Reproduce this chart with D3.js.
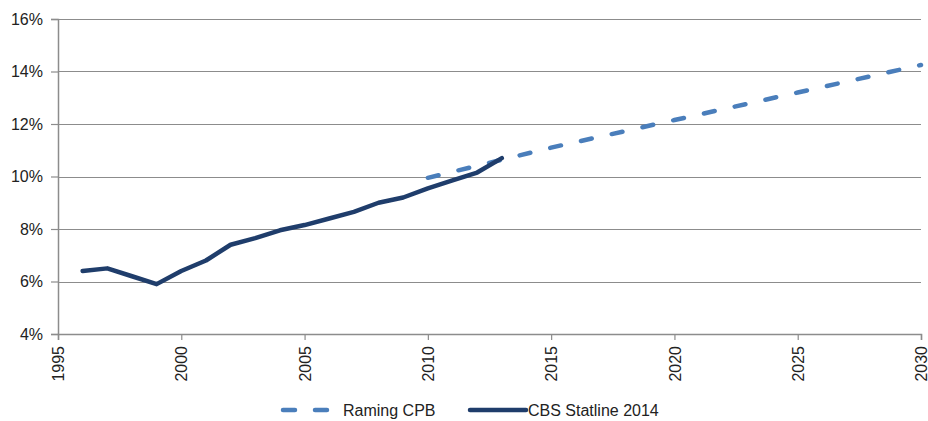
<!DOCTYPE html>
<html>
<head>
<meta charset="utf-8">
<style>
	body { margin: 0; background: #fff; }
	svg text { font-family: "Liberation Sans", Arial, sans-serif; fill: #222; }
</style>
</head>
<body>
<div id="chart"></div>
<script src="https://d3js.org/d3.v7.min.js"></script>
<script>
	// CBS Statline 2014 (realised)
	var cbsYears = [1996, 1997, 1998, 1999, 2000, 2001, 2002, 2003, 2004, 2005, 2006, 2007, 2008, 2009, 2010, 2011, 2012, 2013];
	var cbsValues = [6.4, 6.5, 6.2, 5.9, 6.4, 6.8, 7.4, 7.65, 7.95, 8.15, 8.4, 8.65, 9.0, 9.2, 9.55, 9.85, 10.15, 10.7];

	// Raming CPB (projection)
	var cpbYears = [2010, 2015, 2020, 2025, 2030];
	var cpbValues = [9.95, 11.1, 12.15, 13.2, 14.25];

	var xTicks = [1995, 2000, 2005, 2010, 2015, 2020, 2025, 2030];
	var yTicks = [4, 6, 8, 10, 12, 14, 16];

	var margin = {top: 19, right: 7, bottom: 87, left: 58},
		W = 928, H = 421,
		width = W - margin.left - margin.right,
		height = H - margin.top - margin.bottom;

	var x = d3.scaleLinear().domain([1995, 2030]).range([0, width]);
	var y = d3.scaleLinear().domain([4, 16]).range([height, 0]);

	var svg = d3.select("#chart").append("svg")
		.attr("width", W)
		.attr("height", H)
		.append("g")
		.attr("transform", "translate(" + margin.left + "," + margin.top + ")");

	// gridlines
	svg.append("g")
		.selectAll("line")
		.data(yTicks)
		.enter().append("line")
		.attr("x1", 0)
		.attr("x2", width)
		.attr("y1", function(d){ return Math.round(y(d)) + 0.5; })
		.attr("y2", function(d){ return Math.round(y(d)) + 0.5; })
		.style("stroke", "#8c8c8c")
		.style("stroke-width", 1.2);

	// y axis
	var yAxis = svg.append("g")
		.call(d3.axisLeft(y).tickValues(yTicks).tickSize(7).tickPadding(8).tickFormat(function(d){ return d + "%"; }));
	yAxis.selectAll("text").style("font-size", "16px");

	// x axis
	var xAxis = svg.append("g")
		.attr("transform", "translate(0," + height + ")")
		.call(d3.axisBottom(x).tickValues(xTicks).tickSize(6).tickFormat(d3.format("d")));
	xAxis.selectAll("text")
		.style("font-size", "16px")
		.style("text-anchor", "end")
		.attr("transform", "rotate(-90)")
		.attr("x", -12)
		.attr("y", 0)
		.attr("dy", "0.35em");

	[yAxis, xAxis].forEach(function(a){
		a.select(".domain").style("stroke", "#8c8c8c").style("stroke-width", 1.5);
		a.selectAll(".tick line").style("stroke", "#8c8c8c").style("stroke-width", 1.2);
	});

	var line = d3.line()
		.x(function(d){ return x(d[0]); })
		.y(function(d){ return y(d[1]); });

	// projection line
	svg.append("path")
		.datum(d3.zip(cpbYears, cpbValues))
		.attr("d", line)
		.style("fill", "none")
		.style("stroke", "#4a7ebb")
		.style("stroke-width", 4.5)
		.style("stroke-linecap", "round")
		.style("stroke-dasharray", "11,20.5");

	// realised line
	svg.append("path")
		.datum(d3.zip(cbsYears, cbsValues))
		.attr("d", line)
		.style("fill", "none")
		.style("stroke", "#1f3d6b")
		.style("stroke-width", 4.5)
		.style("stroke-linejoin", "round")
		.style("stroke-linecap", "round");

	// legend
	var legend = d3.select("svg").append("g")
		.attr("transform", "translate(0,410)");

	legend.append("line")
		.attr("x1", 283).attr("x2", 330)
		.style("stroke", "#4a7ebb")
		.style("stroke-width", 4.5)
		.style("stroke-linecap", "round")
		.style("stroke-dasharray", "12,20");
	legend.append("text")
		.attr("x", 343).attr("dy", "0.35em")
		.style("font-size", "16px")
		.text("Raming CPB");

	legend.append("line")
		.attr("x1", 470).attr("x2", 526)
		.style("stroke", "#1f3d6b")
		.style("stroke-width", 4.5)
		.style("stroke-linecap", "round");
	legend.append("text")
		.attr("x", 528).attr("dy", "0.35em")
		.style("font-size", "16px")
		.text("CBS Statline 2014");
</script>
</body>
</html>
